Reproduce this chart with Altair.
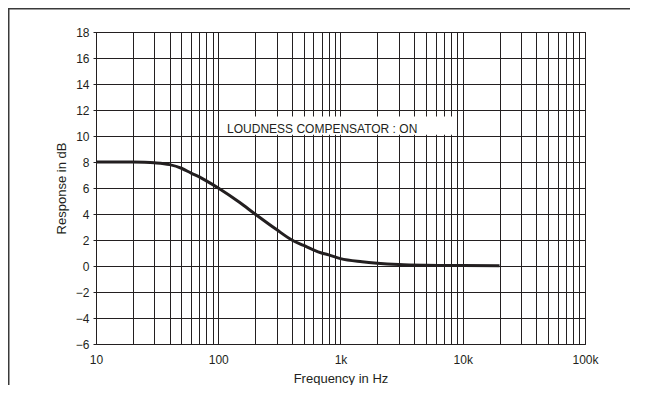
import altair as alt
import pandas as pd

# ---- data ----
freq_hz = [10, 20, 25, 30, 40, 50, 60, 70, 80, 100, 150, 200, 300, 400, 500,
           600, 700, 800, 1000, 1500, 2000, 3000, 5000, 10000, 20000]
response_db = [8.0, 8.0, 7.98, 7.94, 7.8, 7.52, 7.15, 6.85, 6.55, 6.0, 4.88, 4.0,
               2.8, 2.0, 1.58, 1.24, 1.0, 0.86, 0.57, 0.33, 0.22, 0.12, 0.06, 0.03, 0.02]

x_tick_values = [10, 100, 1000, 10000, 100000]
x_tick_labels = ["10", "100", "1k", "10k", "100k"]
y_tick_values = [-6, -4, -2, 0, 2, 4, 6, 8, 10, 12, 14, 16, 18]

note_text = ["LOUDNESS COMPENSATOR : ON"]

INK = "#231f20"
FONT = "Liberation Sans"

# gridlines at every 1..9 x decade
x_grid = [m * 10 ** e for e in range(1, 5) for m in range(1, 10)] + [100000]
label_expr = " : ".join(
    f"datum.value == {v} ? '{l}'" for v, l in zip(x_tick_values, x_tick_labels)
) + " : ''"

curve_df = pd.DataFrame({"freq": freq_hz, "db": response_db})
note_df = pd.DataFrame({"freq": [118], "db": [10.2], "label": note_text})
box_df = pd.DataFrame({"freq": [105], "freq_end": [8170], "db": [10.1], "db_end": [11.5]})

xs = alt.Scale(type="log", domain=[10, 100000], nice=False)
ys = alt.Scale(domain=[-6, 18], nice=False, zero=False)

x_axis = alt.Axis(
    values=x_grid, labelExpr=label_expr, title="Frequency in Hz", grid=True,
    ticks=False, domain=False, labelFlush=False, labelOverlap=False,
    labelPadding=10, titlePadding=7,
)
y_axis = alt.Axis(
    values=y_tick_values, title="Response in dB", grid=True, domain=False,
    tickSize=3, labelPadding=4, titlePadding=7,
)

X = alt.X("freq:Q", scale=xs, axis=x_axis)
Y = alt.Y("db:Q", scale=ys, axis=y_axis)

box = alt.Chart(box_df).mark_rect(color="white").encode(
    x=X, x2="freq_end:Q", y=Y, y2="db_end:Q"
)

curve = alt.Chart(curve_df).mark_line(
    color=INK, strokeWidth=3, interpolate="monotone"
).encode(x=X, y=Y)

note = alt.Chart(note_df).mark_text(
    align="left", baseline="alphabetic", fontSize=12, font=FONT, color=INK
).encode(x=X, y=Y, text="label:N")

# page frame (top and left edges only, as in the reference), drawn as thin rects
frame_top = alt.Chart(pd.DataFrame({"edge": ["top"]})).mark_rect(
    color="#3a3a3a"
).encode(
    x=alt.value(-88), x2=alt.value(534), y=alt.value(-24), y2=alt.value(-22.5)
)
frame_left = alt.Chart(pd.DataFrame({"edge": ["left"]})).mark_rect(
    color="#3a3a3a"
).encode(
    x=alt.value(-88), x2=alt.value(-86.5), y=alt.value(-24), y2=alt.value(353)
)

chart = alt.layer(box, curve, note, frame_top, frame_left).properties(
    width=489, height=312,
    autosize=alt.AutoSizeParams(type="none"),
    padding={"left": 88, "top": 24, "right": 45, "bottom": 41},
).configure_view(
    stroke=INK, strokeWidth=1
).configure_axis(
    gridColor=INK, gridWidth=1, gridOpacity=1, tickColor=INK, tickWidth=1,
    labelFont=FONT, labelFontSize=12, labelColor=INK,
    titleFont=FONT, titleFontSize=13, titleColor=INK, titleFontWeight="normal",
)

chart.save("out.html", embed_options={"renderer": "svg", "actions": False})
